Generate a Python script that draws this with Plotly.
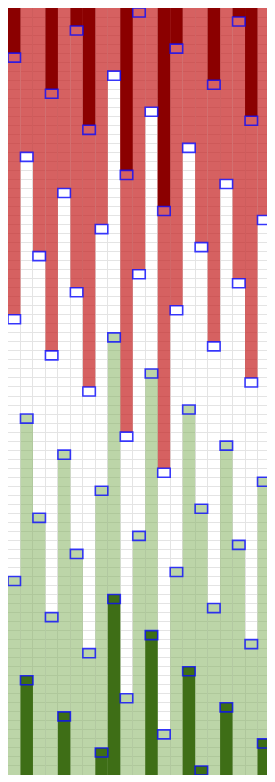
import plotly.graph_objects as go

# ---- data ----
columns = list(range(1, 22))
red_len = [34, 16, 27, 38, 20, 31, 42, 24, 7, 47, 29, 11, 51, 33, 15, 26, 37, 19, 30, 41, 23]
green_len = [22, 40, 29, 18, 36, 25, 14, 32, 49, 9, 27, 45, 5, 23, 41, 30, 19, 37, 26, 15, 33]
band = 29
axis_max = 85

# derived quantities
dark_red_cols = [c for c, r in zip(columns, red_len) if r - band >= 0]
dark_red_len = [r - band for r in red_len if r - band >= 0]
green_base = [axis_max - g for g in green_len]
dark_green_cols = [c for c, g in zip(columns, green_len) if g - band >= 0]
dark_green_len = [g - band for g in green_len if g - band >= 0]
dark_green_base = [axis_max - d for d in dark_green_len]

fig = go.Figure()

# light red bars from the top
fig.add_trace(go.Bar(x=columns, y=red_len, base=[0] * len(columns), width=1,
                     marker=dict(color="rgba(197,30,30,0.7)", line=dict(width=0)),
                     hoverinfo="skip", showlegend=False))
# dark red bars
fig.add_trace(go.Bar(x=dark_red_cols, y=dark_red_len, base=[0] * len(dark_red_cols), width=1,
                     marker=dict(color="rgb(139,0,0)", line=dict(width=0)),
                     hoverinfo="skip", showlegend=False))
# light green bars from the bottom
fig.add_trace(go.Bar(x=columns, y=green_len, base=green_base, width=1,
                     marker=dict(color="rgba(121,171,81,0.5)", line=dict(width=0)),
                     hoverinfo="skip", showlegend=False))
# dark green bars
fig.add_trace(go.Bar(x=dark_green_cols, y=dark_green_len, base=dark_green_base, width=1,
                     marker=dict(color="rgba(58,106,18,0.97)", line=dict(width=0)),
                     hoverinfo="skip", showlegend=False))

# blue outline markers at each bar end (only those inside the visible range)
mk_x = []
mk_base = []
for c, r in zip(columns, red_len):
    mk_x.append(c); mk_base.append(r)
for c, d in zip(dark_red_cols, dark_red_len):
    mk_x.append(c); mk_base.append(d)
for c, b in zip(columns, green_base):
    mk_x.append(c); mk_base.append(b)
for c, b in zip(dark_green_cols, dark_green_base):
    if b < axis_max:
        mk_x.append(c); mk_base.append(b)

fig.add_trace(go.Bar(x=mk_x, y=[1] * len(mk_x), base=mk_base, width=1,
                     marker=dict(color="rgba(0,0,0,0)",
                                 line=dict(color="rgba(10,10,255,0.8)", width=1.6)),
                     hoverinfo="skip", showlegend=False))

fig.update_layout(
    width=262, height=767,
    margin=dict(l=0, r=0, t=0, b=0, pad=0),
    barmode="overlay",
    plot_bgcolor="white", paper_bgcolor="white",
    showlegend=False,
    xaxis=dict(range=[0.5, 21.5], tick0=0.5, dtick=1, showgrid=True,
               gridcolor="#e4e4e4", gridwidth=1, zeroline=False,
               showticklabels=False, ticks=""),
    yaxis=dict(range=[axis_max, 0], tick0=0, dtick=1, showgrid=True,
               gridcolor="#e4e4e4", gridwidth=1, zeroline=False,
               showticklabels=False, ticks=""),
)

fig.write_html("out.html")
